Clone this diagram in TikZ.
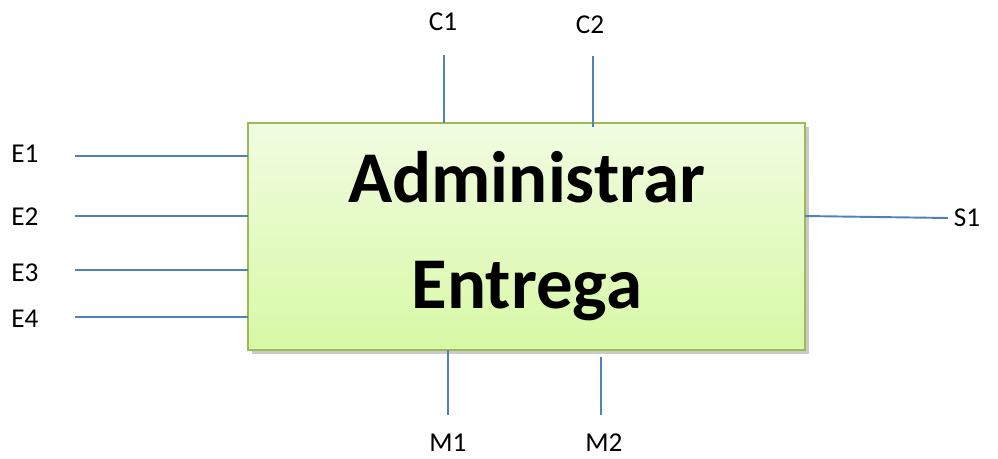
\documentclass[tikz,border=0pt]{standalone}
\usepackage{fontspec}
\setmainfont{Carlito}
\usetikzlibrary{shadows}
\definecolor{linkblue}{RGB}{79,129,189}
\definecolor{boxgreen}{RGB}{155,187,89}
\definecolor{boxtop}{RGB}{241,252,225}
\definecolor{boxbottom}{RGB}{215,249,165}
\tikzset{
  link/.style={draw=linkblue,line width=1.1pt},
  tag/.style={font=\fontsize{15.5}{18}\selectfont,inner sep=0pt},
  process/.style={draw=boxgreen,line width=1.1pt,top color=boxtop,bottom color=boxbottom,
    drop shadow={shadow xshift=2.5pt,shadow yshift=-2.5pt,opacity=0.35,fill=black!60}}
}
\begin{document}
\begin{tikzpicture}[x=0.02cm,y=-0.02cm]
\useasboundingbox (0,0) rectangle (998,458);
% box
\draw[process] (248,123) rectangle (805,350);
\node[align=center,font=\fontsize{41.5}{60}\selectfont\bfseries] (box) at (527,236)
  {Administrar\\Entrega};
% free ends
\coordinate (e1) at (75,156);
\coordinate (e2) at (75,216);
\coordinate (e3) at (75,270);
\coordinate (e4) at (75,317);
\coordinate (c1) at (444,55);
\coordinate (c2) at (593,56);
\coordinate (s1) at (948,218);
\coordinate (m1) at (448,415);
\coordinate (m2) at (601,415);
% box sides
\coordinate (e1b) at (248,156);
\coordinate (e2b) at (248,216);
\coordinate (e3b) at (248,270);
\coordinate (e4b) at (248,317);
\coordinate (c1b) at (444,123);
\coordinate (c2b) at (593,127);
\coordinate (s1b) at (805,216);
\coordinate (m1b) at (448,350);
\coordinate (m2b) at (601,357);
\foreach \p in {e1,e2,e3,e4,c1,c2,s1,m1,m2}
  \draw[link] (\p) -- (\p b);
% labels
\node[tag] (E1) at (25,154) {E1};
\node[tag] (E2) at (25,217) {E2};
\node[tag] (E3) at (25,273) {E3};
\node[tag] (E4) at (25,319) {E4};
\node[tag] (C1) at (443,22) {C1};
\node[tag] (C2) at (590,25) {C2};
\node[tag] (S1) at (967,218) {S1};
\node[tag] (M1) at (448,443) {M1};
\node[tag] (M2) at (604,443) {M2};
\end{tikzpicture}
\end{document}
